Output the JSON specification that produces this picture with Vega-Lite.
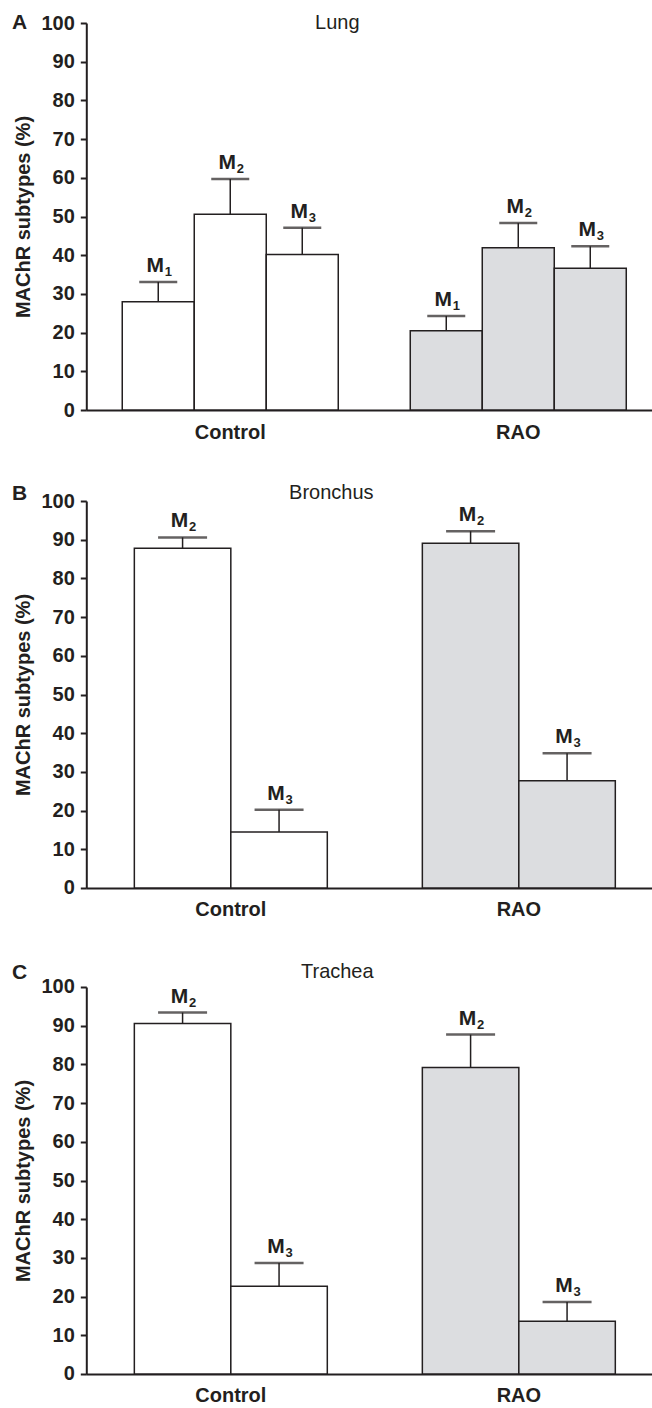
{
  "$schema": "https://vega.github.io/schema/vega-lite/v6.json",
  "padding": {"left": 11.3, "top": 12, "right": 0, "bottom": 0},
  "autosize": {"type": "pad"},
  "background": "white",
  "datasets": {
    "bars": [
      {"tissue": "Lung", "group": "Control", "sub": "M1", "idx": "1", "mean": 28.0, "upper": 33.1},
      {"tissue": "Lung", "group": "Control", "sub": "M2", "idx": "2", "mean": 50.6, "upper": 59.7},
      {"tissue": "Lung", "group": "Control", "sub": "M3", "idx": "3", "mean": 40.2, "upper": 47.1},
      {"tissue": "Lung", "group": "RAO", "sub": "M1", "idx": "1", "mean": 20.5, "upper": 24.3},
      {"tissue": "Lung", "group": "RAO", "sub": "M2", "idx": "2", "mean": 41.9, "upper": 48.3},
      {"tissue": "Lung", "group": "RAO", "sub": "M3", "idx": "3", "mean": 36.6, "upper": 42.3},
      {"tissue": "Bronchus", "group": "Control", "sub": "M2", "idx": "2", "mean": 87.8, "upper": 90.6},
      {"tissue": "Bronchus", "group": "Control", "sub": "M3", "idx": "3", "mean": 14.5, "upper": 20.2},
      {"tissue": "Bronchus", "group": "RAO", "sub": "M2", "idx": "2", "mean": 89.1, "upper": 92.2},
      {"tissue": "Bronchus", "group": "RAO", "sub": "M3", "idx": "3", "mean": 27.7, "upper": 34.8},
      {"tissue": "Trachea", "group": "Control", "sub": "M2", "idx": "2", "mean": 90.6, "upper": 93.4},
      {"tissue": "Trachea", "group": "Control", "sub": "M3", "idx": "3", "mean": 22.7, "upper": 28.7},
      {"tissue": "Trachea", "group": "RAO", "sub": "M2", "idx": "2", "mean": 79.2, "upper": 87.7},
      {"tissue": "Trachea", "group": "RAO", "sub": "M3", "idx": "3", "mean": 13.6, "upper": 18.6}
    ]
  },
  "config": {
    "view": {"stroke": null},
    "font": "Liberation Sans",
    "title": {"color": "#231f20", "font": "Liberation Sans"},
    "axis": {
      "domainColor": "#231f20", "domainWidth": 2,
      "tickColor": "#231f20", "tickWidth": 2,
      "labelColor": "#231f20", "labelFont": "Liberation Sans", "labelFontWeight": "bold",
      "titleColor": "#231f20", "titleFont": "Liberation Sans", "titleFontWeight": "bold",
      "grid": false, "labelOverlap": false
    },
    "axisY": {"labelFontSize": 20, "titleFontSize": 20, "tickSize": 6, "labelPadding": 6, "titlePadding": 7},
    "axisX": {"labelFontSize": 20, "ticks": false, "tickSize": 0, "labelPadding": 12, "labelAngle": 0}
  },
  "resolve": {"scale": {"x": "independent", "xOffset": "independent", "y": "independent"}},
  "spacing": 42,
  "vconcat": [
    {
      "resolve": {"scale": {"x": "independent", "xOffset": "independent", "y": "independent"}},
      "spacing": 41,
      "vconcat": [
        {
          "title": {"text": "A", "anchor": "start", "frame": "bounds", "dx": -2, "offset": -37, "baseline": "alphabetic", "fontSize": 21, "fontWeight": "bold"},
          "vconcat": [
            {
              "width": 566, "height": 387,
              "data": {"name": "bars"},
              "transform": [{"filter": "datum.tissue === 'Lung'"}],
              "title": {"text": "Lung", "anchor": "middle", "frame": "group", "dx": -32, "offset": -36, "baseline": "alphabetic", "fontSize": 20, "fontWeight": "normal"},
              "encoding": {
                "x": {"field": "group", "type": "nominal", "sort": ["Control", "RAO"], "title": null,
                      "scale": {"domain": ["Control", "RAO"], "paddingInner": 0.25, "paddingOuter": 0.1076, "align": 0.58}},
                "xOffset": {"field": "sub", "type": "nominal", "scale": {"domain": ["M1", "M2", "M3"], "paddingInner": 0, "paddingOuter": 0}}
              },
              "layer": [
                {
                  "mark": {"type": "bar", "stroke": "#231f20", "strokeWidth": 1.5},
                  "encoding": {
                    "y": {"field": "mean", "type": "quantitative", "title": "MAChR subtypes (%)", "scale": {"domain": [0, 100], "nice": false}, "axis": {"values": [0, 10, 20, 30, 40, 50, 60, 70, 80, 90, 100], "labelOverlap": false}},
                    "color": {"field": "group", "type": "nominal", "scale": {"domain": ["Control", "RAO"], "range": ["#ffffff", "#dcdde0"]}, "legend": null}
                  }
                },
                {
                  "mark": {"type": "rule", "color": "#231f20", "strokeWidth": 1.5},
                  "encoding": {"y": {"field": "mean", "type": "quantitative", "title": "MAChR subtypes (%)", "axis": {"values": [0, 10, 20, 30, 40, 50, 60, 70, 80, 90, 100], "labelOverlap": false}}, "y2": {"field": "upper"}}
                },
                {
                  "mark": {"type": "tick", "orient": "horizontal", "color": "#231f20", "size": 38, "thickness": 2.5},
                  "encoding": {"y": {"field": "upper", "type": "quantitative", "title": "MAChR subtypes (%)", "axis": {"values": [0, 10, 20, 30, 40, 50, 60, 70, 80, 90, 100], "labelOverlap": false}}}
                },
                {
                  "mark": {"type": "text", "text": "M", "baseline": "alphabetic", "align": "center", "dx": -3, "dy": -10, "fontSize": 21, "fontWeight": "bold", "color": "#231f20"},
                  "encoding": {"y": {"field": "upper", "type": "quantitative", "title": "MAChR subtypes (%)", "axis": {"values": [0, 10, 20, 30, 40, 50, 60, 70, 80, 90, 100], "labelOverlap": false}}}
                },
                {
                  "mark": {"type": "text", "baseline": "alphabetic", "align": "center", "dx": 10, "dy": -6, "fontSize": 13, "fontWeight": "bold", "color": "#231f20"},
                  "encoding": {"y": {"field": "upper", "type": "quantitative", "title": "MAChR subtypes (%)", "axis": {"values": [0, 10, 20, 30, 40, 50, 60, 70, 80, 90, 100], "labelOverlap": false}}, "text": {"field": "idx"}}
                }
              ]
            }
          ]
        },
        {
          "title": {"text": "B", "anchor": "start", "frame": "bounds", "dx": -2, "offset": -38, "baseline": "alphabetic", "fontSize": 21, "fontWeight": "bold"},
          "vconcat": [
            {
              "width": 566, "height": 387,
              "data": {"name": "bars"},
              "transform": [{"filter": "datum.tissue === 'Bronchus'"}],
              "title": {"text": "Bronchus", "anchor": "middle", "frame": "group", "dx": -38, "offset": -28, "baseline": "alphabetic", "fontSize": 20, "fontWeight": "normal"},
              "encoding": {
                "x": {"field": "group", "type": "nominal", "sort": ["Control", "RAO"], "title": null,
                      "scale": {"domain": ["Control", "RAO"], "paddingInner": 0.33, "paddingOuter": 0.1476, "align": 0.565}},
                "xOffset": {"field": "sub", "type": "nominal", "scale": {"domain": ["M2", "M3"], "paddingInner": 0, "paddingOuter": 0}}
              },
              "layer": [
                {
                  "mark": {"type": "bar", "stroke": "#231f20", "strokeWidth": 1.5},
                  "encoding": {
                    "y": {"field": "mean", "type": "quantitative", "title": "MAChR subtypes (%)", "scale": {"domain": [0, 100], "nice": false}, "axis": {"values": [0, 10, 20, 30, 40, 50, 60, 70, 80, 90, 100], "labelOverlap": false}},
                    "color": {"field": "group", "type": "nominal", "scale": {"domain": ["Control", "RAO"], "range": ["#ffffff", "#dcdde0"]}, "legend": null}
                  }
                },
                {
                  "mark": {"type": "rule", "color": "#231f20", "strokeWidth": 1.5},
                  "encoding": {"y": {"field": "mean", "type": "quantitative", "title": "MAChR subtypes (%)", "axis": {"values": [0, 10, 20, 30, 40, 50, 60, 70, 80, 90, 100], "labelOverlap": false}}, "y2": {"field": "upper"}}
                },
                {
                  "mark": {"type": "tick", "orient": "horizontal", "color": "#231f20", "size": 49, "thickness": 2.5},
                  "encoding": {"y": {"field": "upper", "type": "quantitative", "title": "MAChR subtypes (%)", "axis": {"values": [0, 10, 20, 30, 40, 50, 60, 70, 80, 90, 100], "labelOverlap": false}}}
                },
                {
                  "mark": {"type": "text", "text": "M", "baseline": "alphabetic", "align": "center", "dx": -3, "dy": -10, "fontSize": 21, "fontWeight": "bold", "color": "#231f20"},
                  "encoding": {"y": {"field": "upper", "type": "quantitative", "title": "MAChR subtypes (%)", "axis": {"values": [0, 10, 20, 30, 40, 50, 60, 70, 80, 90, 100], "labelOverlap": false}}}
                },
                {
                  "mark": {"type": "text", "baseline": "alphabetic", "align": "center", "dx": 10, "dy": -6, "fontSize": 13, "fontWeight": "bold", "color": "#231f20"},
                  "encoding": {"y": {"field": "upper", "type": "quantitative", "title": "MAChR subtypes (%)", "axis": {"values": [0, 10, 20, 30, 40, 50, 60, 70, 80, 90, 100], "labelOverlap": false}}, "text": {"field": "idx"}}
                }
              ]
            }
          ]
        }
      ]
    },
    {
      "title": {"text": "C", "anchor": "start", "frame": "bounds", "dx": -2, "offset": -38, "baseline": "alphabetic", "fontSize": 21, "fontWeight": "bold"},
      "vconcat": [
        {
          "width": 566, "height": 387,
          "data": {"name": "bars"},
          "transform": [{"filter": "datum.tissue === 'Trachea'"}],
          "title": {"text": "Trachea", "anchor": "middle", "frame": "group", "dx": -32, "offset": -21, "baseline": "alphabetic", "fontSize": 20, "fontWeight": "normal"},
          "encoding": {
            "x": {"field": "group", "type": "nominal", "sort": ["Control", "RAO"], "title": null,
                  "scale": {"domain": ["Control", "RAO"], "paddingInner": 0.33, "paddingOuter": 0.1476, "align": 0.565}},
            "xOffset": {"field": "sub", "type": "nominal", "scale": {"domain": ["M2", "M3"], "paddingInner": 0, "paddingOuter": 0}}
          },
          "layer": [
            {
              "mark": {"type": "bar", "stroke": "#231f20", "strokeWidth": 1.5},
              "encoding": {
                "y": {"field": "mean", "type": "quantitative", "title": "MAChR subtypes (%)", "scale": {"domain": [0, 100], "nice": false}, "axis": {"values": [0, 10, 20, 30, 40, 50, 60, 70, 80, 90, 100], "labelOverlap": false}},
                "color": {"field": "group", "type": "nominal", "scale": {"domain": ["Control", "RAO"], "range": ["#ffffff", "#dcdde0"]}, "legend": null}
              }
            },
            {
              "mark": {"type": "rule", "color": "#231f20", "strokeWidth": 1.5},
              "encoding": {"y": {"field": "mean", "type": "quantitative", "title": "MAChR subtypes (%)", "axis": {"values": [0, 10, 20, 30, 40, 50, 60, 70, 80, 90, 100], "labelOverlap": false}}, "y2": {"field": "upper"}}
            },
            {
              "mark": {"type": "tick", "orient": "horizontal", "color": "#231f20", "size": 49, "thickness": 2.5},
              "encoding": {"y": {"field": "upper", "type": "quantitative", "title": "MAChR subtypes (%)", "axis": {"values": [0, 10, 20, 30, 40, 50, 60, 70, 80, 90, 100], "labelOverlap": false}}}
            },
            {
              "mark": {"type": "text", "text": "M", "baseline": "alphabetic", "align": "center", "dx": -3, "dy": -10, "fontSize": 21, "fontWeight": "bold", "color": "#231f20"},
              "encoding": {"y": {"field": "upper", "type": "quantitative", "title": "MAChR subtypes (%)", "axis": {"values": [0, 10, 20, 30, 40, 50, 60, 70, 80, 90, 100], "labelOverlap": false}}}
            },
            {
              "mark": {"type": "text", "baseline": "alphabetic", "align": "center", "dx": 10, "dy": -6, "fontSize": 13, "fontWeight": "bold", "color": "#231f20"},
              "encoding": {"y": {"field": "upper", "type": "quantitative", "title": "MAChR subtypes (%)", "axis": {"values": [0, 10, 20, 30, 40, 50, 60, 70, 80, 90, 100], "labelOverlap": false}}, "text": {"field": "idx"}}
            }
          ]
        }
      ]
    }
  ]
}
